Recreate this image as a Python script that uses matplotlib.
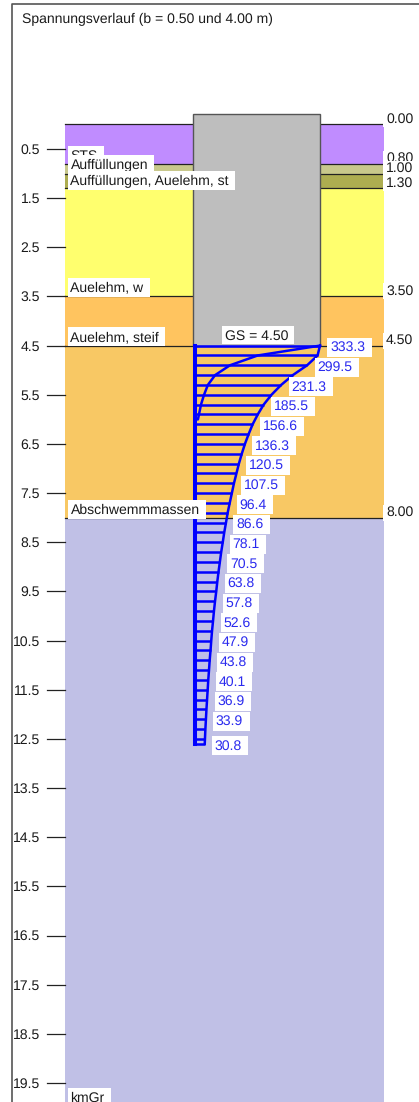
import matplotlib
matplotlib.use("Agg")
import matplotlib.pyplot as plt
from matplotlib.patches import Rectangle

plt.rcParams['font.family'] = ['Liberation Sans', 'DejaVu Sans']
plt.rcParams['text.hinting'] = 'no_hinting'

W, H = 419, 1102
PX_M = 49.16      # px per metre depth
Y0 = 124.4        # pixel row of depth 0
PX_S = 0.381      # px per stress unit
X0 = 193          # pixel column of stress 0 / pile left

# layers
layer_tops = [0.0, 0.8, 1.0, 1.3, 3.5, 4.5, 8.0]
layer_bottoms = [0.8, 1.0, 1.3, 3.5, 4.5, 8.0, 20.0]
layer_colors = ['#c08cff', '#c8c88c', '#adad50', '#ffff6e', '#ffc45f', '#f8c864', '#c0c0e6']
layer_names = ['STS', 'Auffüllungen', 'Auffüllungen, Auelehm, st', 'Auelehm, w',
               'Auelehm, steif', 'Abschwemmmassen', 'kmGr']
level_labels = ['0.00', '0.80', '1.00', '1.30', '3.50', '4.50', '8.00']
levels = [0.0, 0.8, 1.0, 1.3, 3.5, 4.5, 8.0]
ticks = [0.5, 1.5, 2.5, 3.5, 4.5, 5.5, 6.5, 7.5, 8.5, 9.5, 10.5, 11.5, 12.5,
         13.5, 14.5, 15.5, 16.5, 17.5, 18.5, 19.5]

# stress, outer curve (b = 4.00 m) every 0.2 m
outer_depth = [4.5, 4.7, 4.9, 5.1, 5.3, 5.5, 5.7, 5.9, 6.1, 6.3, 6.5, 6.7, 6.9, 7.1, 7.3, 7.5,
               7.7, 7.9, 8.1, 8.3, 8.5, 8.7, 8.9, 9.1, 9.3, 9.5, 9.7, 9.9, 10.1, 10.3, 10.5,
               10.7, 10.9, 11.1, 11.3, 11.5, 11.7, 11.9, 12.1, 12.3, 12.5, 12.6]
outer_val = [333.3, 327, 299.5, 262, 231.3, 206, 185.5, 170, 156.6, 146, 136.3, 128, 120.5, 114,
             107.5, 102, 96.4, 91, 86.6, 82, 78.1, 74, 70.5, 67, 63.8, 61, 57.8, 55, 52.6, 50,
             47.9, 46, 43.8, 42, 40.1, 38.5, 36.9, 35.3, 33.9, 32.5, 31.4, 30.8]
label_depth = outer_depth[:40:2] + [12.6]
label_val = outer_val[:40:2] + [30.8]

# stress, inner curve (b = 0.50 m)
inner_depth = [4.5, 4.7, 4.9, 5.1, 5.3, 5.5, 5.7, 6.0]
inner_val = [333.3, 170, 97, 58, 39, 29, 21, 13]

fig = plt.figure(figsize=(W / 100, H / 100), dpi=100)
ax = fig.add_axes([0, 0, 1, 1])
ax.set_xlim(-X0 / PX_S, (W - X0) / PX_S)
ax.set_ylim((H - Y0) / PX_M, -Y0 / PX_M)
ax.axis('off')
rend = fig.canvas.get_renderer()


def sx(px):
    return (px - X0) / PX_S


def dy(px):
    return (px - Y0) / PX_M


FS = 10.1
txt = '#1a1a1a'
z = [10]


def boxed(px, py, s, color=txt, left=2.5, right=6, up=10.5, down=8.5):
    # white box first, text on top, later labels paint over earlier ones
    z[0] += 1
    t = ax.text(sx(px), dy(py), s, ha='left', va='center', fontsize=FS, color=color, zorder=z[0] + 0.5)
    w = t.get_window_extent(rend).width
    ax.add_patch(Rectangle((sx(px - left), dy(py - up)), (w + left + right) / PX_S, (up + down) / PX_M,
                           fc='white', ec='none', zorder=z[0]))


# frame
ax.plot([sx(11.7), sx(11.7), sx(W + 5)], [dy(H + 5), dy(4), dy(4)], color='#555555', lw=1.2)

# layers
for top, bot, c in zip(layer_tops, layer_bottoms, layer_colors):
    ax.add_patch(Rectangle((sx(65.5), top), sx(383.5) - sx(65.5), bot - top, fc=c, ec='none', zorder=1))
for lv in levels:
    ax.plot([sx(65.5), sx(383.5)], [lv, lv], color='#222222', lw=0.9, zorder=2)

# pile
ax.add_patch(Rectangle((sx(192.8), dy(114)), sx(320.2) - sx(192.8), 4.5 - dy(114),
                       fc='#bebebe', ec='#555555', lw=1.0, zorder=3))

# depth ticks
for t in ticks:
    ax.plot([sx(47), sx(65.5)], [t, t], color='#222222', lw=0.9, zorder=2)
    ax.text(sx(40), t + 1.2 / PX_M, f'{t:.1f}', ha='right', va='center', fontsize=FS, color=txt, zorder=6)

# right level labels
for lab, lv in zip(level_labels, levels):
    boxed(386, Y0 + lv * PX_M - 5, lab, left=3, right=2, up=8, down=8)

# stress figure
BLUE = '#0000ff'
wall = 1.7 / PX_S
for d, v in zip(outer_depth, outer_val):
    ax.plot([wall, v], [d, d], color=BLUE, lw=1.8, zorder=5, solid_capstyle='butt')
ax.plot(outer_val, outer_depth, color=BLUE, lw=1.8, zorder=5)
ax.plot([wall, wall], [4.5, 12.6], color=BLUE, lw=2.9, zorder=5, solid_capstyle='projecting')
ax.plot(inner_val + [wall], inner_depth + [6.0], color=BLUE, lw=1.8, zorder=5)

for d, v in zip(label_depth, label_val):
    boxed(X0 + v * PX_S + 10, Y0 + d * PX_M + 2, f'{v:.1f}', color='#2a2aee', left=2.5, right=6.5, up=9.5, down=9.5)

# layer names
name_y = [156.5, 165.7, 181, 288, 337.5, 510.5, 1098]
for name, ny in zip(layer_names, name_y):
    boxed(70.5, ny, name)

boxed(224.7, 336, 'GS = 4.50', left=3, right=6, up=10, down=8.3)
ax.text(sx(22), dy(19), 'Spannungsverlauf (b = 0.50 und 4.00 m)', ha='left', va='center',
        fontsize=FS, color=txt, zorder=7)

fig.savefig('out.png', dpi=100)
